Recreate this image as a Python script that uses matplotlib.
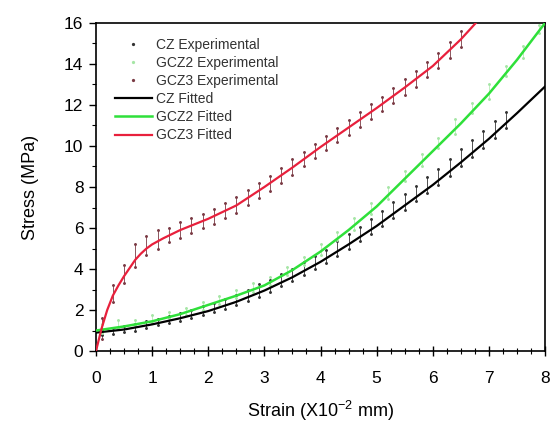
import matplotlib
matplotlib.use("Agg")
import matplotlib.pyplot as plt
from matplotlib.ticker import MultipleLocator

plt.rcParams['font.family'] = ['Liberation Sans', 'DejaVu Sans']
plt.rcParams['mathtext.fontset'] = 'custom'
plt.rcParams['mathtext.rm'] = 'Liberation Sans'
plt.rcParams['mathtext.it'] = 'Liberation Sans'

# ---- fitted curves ----
cz_fit_x = [0, 0.5, 1, 1.5, 2, 2.5, 3, 3.5, 4, 4.5, 5, 5.5, 6, 6.5, 7, 7.5, 8]
cz_fit_y = [0.9, 1.05, 1.3, 1.6, 1.95, 2.4, 2.95, 3.6, 4.35, 5.2, 6.1, 7.1, 8.1, 9.2, 10.35, 11.6, 12.9]

gcz2_fit_x = [0, 0.5, 1, 1.5, 2, 2.5, 3, 3.5, 4, 4.5, 5, 5.5, 6, 6.5, 7, 7.5, 8]
gcz2_fit_y = [1.0, 1.2, 1.45, 1.8, 2.25, 2.7, 3.2, 3.95, 4.85, 5.9, 7.05, 8.4, 9.75, 11.1, 12.55, 14.2, 16.0]

gcz3_fit_x = [0, 0.1, 0.2, 0.3, 0.4, 0.5, 0.6, 0.7, 0.8, 0.9, 1.0, 1.2, 1.5, 2, 2.5, 3, 3.5, 4, 4.5,
              5, 5.5, 6, 6.5, 6.8]
gcz3_fit_y = [0, 1.1, 2.0, 2.7, 3.2, 3.65, 4.05, 4.45, 4.75, 5.0, 5.2, 5.5, 5.9, 6.45, 7.1, 8.0, 8.95,
              9.95, 10.9, 11.85, 12.85, 13.9, 15.2, 16.1]

# ---- experimental data (low / high reading at each strain) ----
cz_exp_x = [0.1, 0.3, 0.5, 0.7, 0.9, 1.1, 1.3, 1.5, 1.7, 1.9, 2.1, 2.3, 2.5, 2.7, 2.9, 3.1, 3.3, 3.5, 3.7,
            3.9, 4.1, 4.3, 4.5, 4.7, 4.9, 5.1, 5.3, 5.5, 5.7, 5.9, 6.1, 6.3, 6.5, 6.7, 6.9, 7.1, 7.3]
cz_exp_lo = [0.80, 0.85, 0.95, 1.00, 1.10, 1.25, 1.35, 1.45, 1.60, 1.75, 1.90, 2.05, 2.25, 2.45, 2.65, 2.90,
             3.15, 3.40, 3.70, 4.00, 4.30, 4.65, 5.00, 5.35, 5.70, 6.10, 6.50, 6.90, 7.30, 7.70, 8.10, 8.55,
             9.00, 9.45, 9.90, 10.40, 10.90]
cz_exp_hi = [1.05, 1.10, 1.20, 1.30, 1.45, 1.55, 1.70, 1.85, 2.00, 2.20, 2.35, 2.55, 2.75, 3.00, 3.25, 3.45,
             3.75, 4.00, 4.35, 4.65, 4.95, 5.35, 5.70, 6.05, 6.45, 6.85, 7.25, 7.65, 8.05, 8.50, 8.90, 9.35,
             9.85, 10.30, 10.75, 11.20, 11.65]

gcz2_exp_x = [0.1, 0.4, 0.7, 1.0, 1.3, 1.6, 1.9, 2.2, 2.5, 2.8, 3.1, 3.4, 3.7, 4.0, 4.3, 4.6, 4.9, 5.2,
              5.5, 5.8, 6.1, 6.4, 6.7, 7.0, 7.3, 7.6, 7.9]
gcz2_exp_lo = [0.9, 1.1, 1.25, 1.35, 1.6, 1.75, 2.0, 2.3, 2.6, 2.9, 3.2, 3.7, 4.2, 4.7, 5.4, 5.9, 6.7,
               7.4, 8.3, 9.0, 9.9, 10.6, 11.6, 12.3, 13.4, 14.3, 15.5]
gcz2_exp_hi = [1.3, 1.5, 1.5, 1.75, 1.9, 2.1, 2.4, 2.7, 3.0, 3.3, 3.6, 4.1, 4.6, 5.2, 5.8, 6.5, 7.2,
               8.0, 8.8, 9.6, 10.4, 11.3, 12.1, 13.0, 13.9, 14.9, 15.9]

gcz3_exp_x = [0.1, 0.3, 0.5, 0.7, 0.9, 1.1, 1.3, 1.5, 1.7, 1.9, 2.1, 2.3, 2.5, 2.7, 2.9, 3.1, 3.3,
              3.5, 3.7, 3.9, 4.1, 4.3, 4.5, 4.7, 4.9, 5.1, 5.3, 5.5, 5.7, 5.9, 6.1, 6.3, 6.5]
gcz3_exp_lo = [0.6, 2.4, 3.3, 4.1, 4.7, 5.0, 5.3, 5.5, 5.75, 6.0, 6.2, 6.5, 6.75, 7.1, 7.45, 7.8, 8.2,
               8.6, 9.0, 9.4, 9.8, 10.2, 10.55, 10.95, 11.3, 11.7, 12.1, 12.5, 12.9, 13.35, 13.8, 14.3, 14.85]
gcz3_exp_hi = [1.6, 3.2, 4.2, 5.2, 5.6, 5.9, 6.0, 6.3, 6.5, 6.7, 6.95, 7.2, 7.5, 7.85, 8.2, 8.55, 8.95,
               9.35, 9.7, 10.1, 10.5, 10.9, 11.25, 11.65, 12.05, 12.4, 12.85, 13.25, 13.65, 14.1, 14.55,
               15.05, 15.6]

labels = ["CZ Experimental", "GCZ2 Experimental", "GCZ3 Experimental",
          "CZ Fitted", "GCZ2 Fitted", "GCZ3 Fitted"]

c_black = '#000000'
c_green = '#2fe03a'
c_red = '#e8203c'
c_cz_pts = '#333333'
c_g2_pts = '#a6e6a6'
c_g3_pts = '#7a3a44'

fig = plt.figure(figsize=(5.5, 4.25), dpi=100)
ax = fig.add_axes([0.1745, 0.174, 0.8165, 0.772])

# experimental points (vertical scatter at each strain)
ax.vlines(cz_exp_x, cz_exp_lo, cz_exp_hi, color=c_cz_pts, lw=0.6, zorder=2)
ax.vlines(gcz2_exp_x, gcz2_exp_lo, gcz2_exp_hi, color=c_g2_pts, lw=0.5, zorder=2)
ax.vlines(gcz3_exp_x, gcz3_exp_lo, gcz3_exp_hi, color=c_g3_pts, lw=0.6, zorder=2)

h1, = ax.plot(cz_exp_x + cz_exp_x, cz_exp_lo + cz_exp_hi, ls='none', marker='.', ms=2.2,
              color=c_cz_pts, label=labels[0], zorder=2)
h2, = ax.plot(gcz2_exp_x + gcz2_exp_x, gcz2_exp_lo + gcz2_exp_hi, ls='none', marker='.', ms=2.2,
              color=c_g2_pts, label=labels[1], zorder=2)
h3, = ax.plot(gcz3_exp_x + gcz3_exp_x, gcz3_exp_lo + gcz3_exp_hi, ls='none', marker='.', ms=2.2,
              color=c_g3_pts, label=labels[2], zorder=2)

h4, = ax.plot(cz_fit_x, cz_fit_y, color=c_black, lw=1.6, label=labels[3], zorder=3)
h5, = ax.plot(gcz2_fit_x, gcz2_fit_y, color=c_green, lw=1.8, label=labels[4], zorder=3)
h6, = ax.plot(gcz3_fit_x, gcz3_fit_y, color=c_red, lw=1.6, label=labels[5], zorder=3)

ax.set_xlim(0, 8)
ax.set_ylim(0, 16)
ax.xaxis.set_major_locator(MultipleLocator(1))
ax.xaxis.set_minor_locator(MultipleLocator(0.25))
ax.yaxis.set_major_locator(MultipleLocator(2))
ax.yaxis.set_minor_locator(MultipleLocator(1))
ax.tick_params(axis='x', which='major', direction='inout', length=7, width=1, labelsize=12.5, pad=11)
ax.tick_params(axis='x', which='minor', direction='inout', length=5, width=0.8)
ax.tick_params(axis='y', which='major', direction='out', length=5, width=1, labelsize=12.5, pad=4)
ax.tick_params(axis='y', which='minor', direction='out', length=3, width=0.8)
for s in ax.spines.values():
    s.set_linewidth(1.2)

ax.set_xlabel("Strain (X10$^{-2}$ mm)", fontsize=13, labelpad=9)
ax.set_ylabel("Stress (MPa)", fontsize=13, labelpad=18)

leg = ax.legend(handles=[h1, h2, h3, h4, h5, h6], loc='upper left', frameon=False,
                fontsize=10, handlelength=2.7, handletextpad=0.3, labelspacing=0.3,
                borderaxespad=0.3, markerscale=1.2, bbox_to_anchor=(0.02, 0.985))
for t in leg.get_texts():
    t.set_color('#333333')

fig.savefig("out.png", dpi=100)
